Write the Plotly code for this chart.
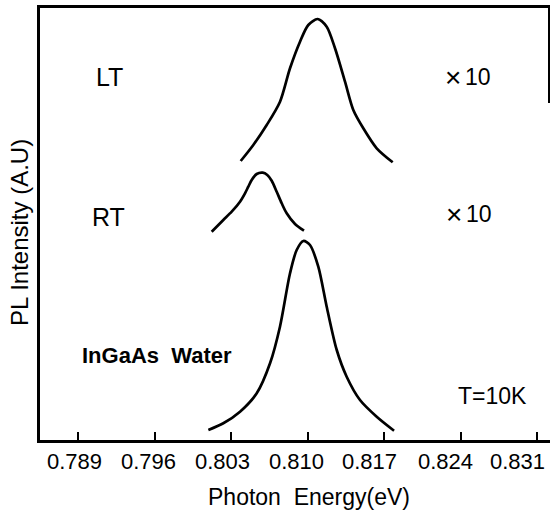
import plotly.graph_objects as go

# Data (Photon energy in eV, PL intensity in arbitrary units)
wafer_e = [0.80090, 0.80227, 0.80380, 0.80533, 0.80655, 0.80746, 0.80838, 0.80899,
           0.80960, 0.81021, 0.81097, 0.81174, 0.81266, 0.81357, 0.81479, 0.81632, 0.81791]
wafer_i = [10, 16.7, 28.3, 46.7, 76.7, 113.3, 166.7, 190, 199, 195, 173.3, 133.3,
           90, 63.3, 40, 23.3, 9.3]

rt_e = [0.801206, 0.802269, 0.803038, 0.803799, 0.804257, 0.804559, 0.804870, 0.805328,
        0.805878, 0.806299, 0.806702, 0.807160, 0.807618, 0.808076, 0.808837, 0.809661]
rt_i = [208.3, 220, 228.3, 238.3, 246.7, 253.3, 260, 266, 267.3, 265, 259.3, 248.3,
        236.7, 226.7, 216, 209.3]

lt_e = [0.803863, 0.805017, 0.806244, 0.807463, 0.808379, 0.809295, 0.810055, 0.810916,
        0.811740, 0.812501, 0.813417, 0.814177, 0.815093, 0.816320, 0.817786]
lt_i = [279, 295, 315, 338.3, 371.7, 398.3, 415, 421, 413.3, 391.7, 358.3, 330,
        311.7, 291.7, 277.7]

tick_vals = [0.789, 0.796, 0.803, 0.810, 0.817, 0.824, 0.831]
tick_text = ["0.789", "0.796", "0.803", "0.810", "0.817", "0.824", "0.831"]

# layout: horizontal centres (px) of the printed tick labels (they drift left of the ticks)
LABEL_PX = [74, 148.5, 222.5, 296.5, 369, 445, 517]

FONT = "Liberation Sans, Arial, sans-serif"

fig = go.Figure()
for xs, ys in [(wafer_e, wafer_i), (rt_e, rt_i), (lt_e, lt_i)]:
    fig.add_trace(go.Scatter(x=xs, y=ys, mode="lines",
                             line=dict(color="black", width=2.7, shape="spline", smoothing=0.8),
                             showlegend=False, hoverinfo="skip"))

fig.update_layout(
    width=550, height=518,
    margin=dict(l=40, r=0, t=8, b=78),
    paper_bgcolor="white", plot_bgcolor="white",
    font=dict(family=FONT, color="black"),
    xaxis=dict(range=[0.785479, 0.832194], tickvals=tick_vals, showticklabels=False,
               ticks="inside", ticklen=8, tickwidth=2, tickcolor="black",
               showline=True, linecolor="black", linewidth=2.5, mirror=True,
               showgrid=False, zeroline=False),
    yaxis=dict(range=[0, 432], showticklabels=False, ticks="",
               showline=True, linecolor="black", linewidth=2.5,
               showgrid=False, zeroline=False),
)

# short right frame line at upper right
fig.add_shape(type="line", xref="paper", yref="paper", x0=0.998, x1=0.998,
              y0=(440 - 103) / 432, y1=1.0, line=dict(color="black", width=2))

def ann(text, px, py, size, angle=0):
    fig.add_annotation(text=text, xref="paper", yref="paper",
                       x=(px - 40) / 510, y=(440 - py) / 432,
                       xanchor="center", yanchor="middle", showarrow=False,
                       textangle=angle, font=dict(size=size, family=FONT, color="black"))

for t, px in zip(tick_text, LABEL_PX):
    ann(t, px, 461, 22)

ann("LT", 109, 77, 25)
ann("×", 452.5, 77, 28)
ann("10", 478, 77, 23)
ann("RT", 108, 217, 25)
ann("×", 453.5, 214, 28)
ann("10", 479, 214, 23)
ann("<b>InGaAs  Water</b>", 157, 355, 22)
ann("T=10K", 492, 396, 23)
ann("Photon  Energy(eV)", 309, 497, 23)
ann("PL Intensity (A.U)", 20, 233, 24, angle=-90)

fig.write_html("out.html")
